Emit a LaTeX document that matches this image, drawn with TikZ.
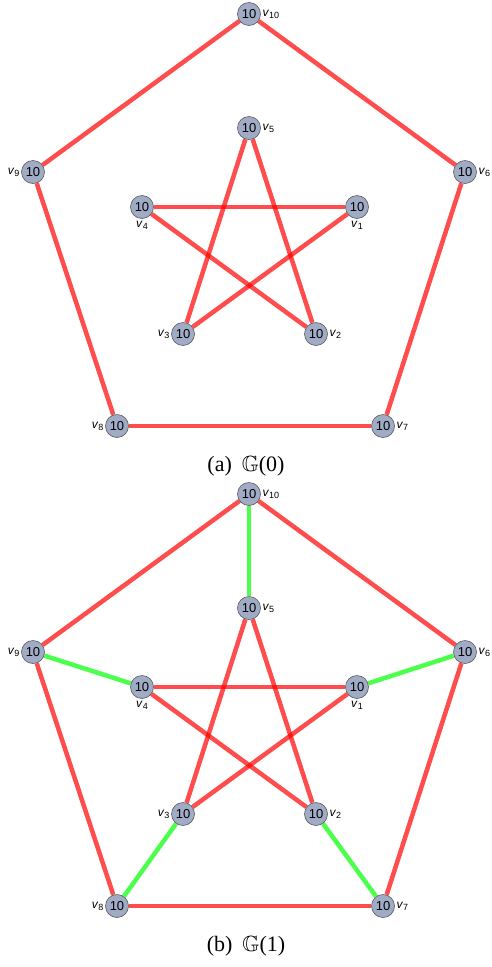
\documentclass[tikz,border=0pt]{standalone}
\usepackage{amssymb}
\usepackage{fontspec}
\setmainfont{Liberation Serif}
\newfontfamily\arialf{Liberation Sans}
\usetikzlibrary{backgrounds}
\definecolor{vfill}{RGB}{160,172,198}
\definecolor{vdraw}{RGB}{90,90,90}
\tikzset{
  vert/.style={circle,fill=vfill,draw=vdraw,line width=0.6pt,minimum size=23pt,inner sep=0pt,font=\arialf\fontsize{13}{13}\selectfont},
  lbl/.style={font=\arialf\fontsize{12}{12}\selectfont,inner sep=1pt},
  redge/.style={draw=red,draw opacity=0.7,line width=4.5pt},
  gedge/.style={draw=green,draw opacity=0.7,line width=4.5pt},
  capt/.style={font=\fontsize{22}{22}\selectfont}
}
\newcommand\vlbl[1]{\textit{v}\raisebox{-0.3ex}{\fontsize{9}{9}\selectfont #1}}
\newcommand\petersen[2]{%
  \node[vert,label={[lbl,label distance=0.5pt]right:\vlbl{10}}] (#1v10) at (249,14+#2) {10};
  \node[vert,label={[lbl,label distance=0.5pt]right:\vlbl{5}}] (#1v5) at (249,128+#2) {10};
  \node[vert,label={[lbl,label distance=0.5pt]left:\vlbl{9}}] (#1v9) at (33,172+#2) {10};
  \node[vert,label={[lbl,label distance=0.5pt]right:\vlbl{6}}] (#1v6) at (465,172+#2) {10};
  \node[vert,label={[lbl,label distance=1pt]below:\vlbl{4}}] (#1v4) at (142,207+#2) {10};
  \node[vert,label={[lbl,label distance=1pt]below:\vlbl{1}}] (#1v1) at (357,207+#2) {10};
  \node[vert,label={[lbl,label distance=0.5pt]left:\vlbl{3}}] (#1v3) at (183,334+#2) {10};
  \node[vert,label={[lbl,label distance=0.5pt]right:\vlbl{2}}] (#1v2) at (316,334+#2) {10};
  \node[vert,label={[lbl,label distance=0.5pt]left:\vlbl{8}}] (#1v8) at (117,426+#2) {10};
  \node[vert,label={[lbl,label distance=0.5pt]right:\vlbl{7}}] (#1v7) at (383,426+#2) {10};
  \begin{scope}[on background layer]
    \draw[redge] (#1v10) -- (#1v6);
    \draw[redge] (#1v6) -- (#1v7);
    \draw[redge] (#1v7) -- (#1v8);
    \draw[redge] (#1v8) -- (#1v9);
    \draw[redge] (#1v9) -- (#1v10);
    \draw[redge] (#1v5) -- (#1v3);
    \draw[redge] (#1v5) -- (#1v2);
    \draw[redge] (#1v4) -- (#1v1);
    \draw[redge] (#1v4) -- (#1v2);
    \draw[redge] (#1v1) -- (#1v3);
  \end{scope}
}
\begin{document}
\begin{tikzpicture}[x=1pt,y=-1pt]
\useasboundingbox (0,0) rectangle (491,967);
\petersen{a}{0}
\petersen{b}{480}
\begin{scope}[on background layer]
  \draw[gedge] (bv10) -- (bv5);
  \draw[gedge] (bv9) -- (bv4);
  \draw[gedge] (bv6) -- (bv1);
  \draw[gedge] (bv8) -- (bv3);
  \draw[gedge] (bv7) -- (bv2);
\end{scope}
\node[capt] (capa) at (246,466) {(a)\hspace{0.45em}$\mathbb{G}$(0)};
\node[capt] (capb) at (246,946) {(b)\hspace{0.45em}$\mathbb{G}$(1)};
\end{tikzpicture}
\end{document}
